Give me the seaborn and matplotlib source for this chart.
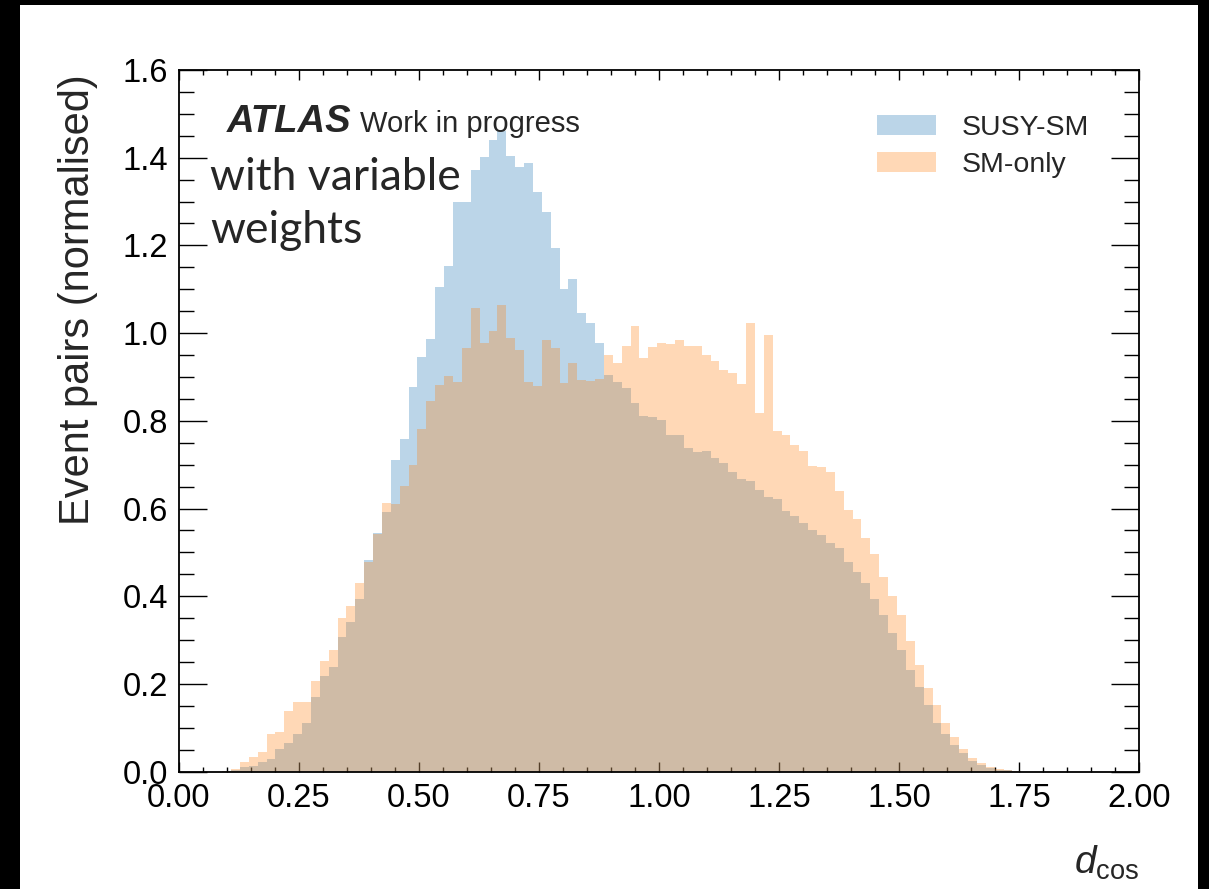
import numpy as np
import pandas as pd
import matplotlib
matplotlib.use("Agg")
import matplotlib.pyplot as plt
import seaborn as sns
from matplotlib.patches import Rectangle, Patch
from matplotlib.ticker import MultipleLocator, FormatStrFormatter

# ---------------- data (normalised bin contents) ----------------
series_labels = ["SUSY-SM", "SM-only"]
bin_start = 0.0898
bin_width = 0.0185

susy_sm = [0.002, 0.005, 0.011, 0.014, 0.021, 0.028, 0.052, 0.066, 0.087, 0.112,
           0.171, 0.218, 0.239, 0.306, 0.341, 0.393, 0.483, 0.544, 0.593, 0.711,
           0.759, 0.878, 0.946, 0.986, 1.106, 1.152, 1.298, 1.298, 1.372, 1.401,
           1.441, 1.462, 1.404, 1.378, 1.388, 1.321, 1.276, 1.194, 1.100, 1.123,
           1.045, 1.024, 0.978, 0.905, 0.888, 0.874, 0.840, 0.812, 0.808, 0.802,
           0.767, 0.767, 0.739, 0.729, 0.732, 0.715, 0.705, 0.684, 0.667, 0.663,
           0.642, 0.627, 0.621, 0.595, 0.582, 0.568, 0.551, 0.540, 0.521, 0.509,
           0.479, 0.455, 0.430, 0.393, 0.357, 0.316, 0.277, 0.233, 0.192, 0.152,
           0.112, 0.085, 0.062, 0.042, 0.024, 0.015, 0.009, 0.005, 0.003, 0.001]

sm_only = [0.002, 0.007, 0.021, 0.034, 0.046, 0.087, 0.090, 0.138, 0.160, 0.160,
           0.207, 0.252, 0.277, 0.350, 0.378, 0.430, 0.479, 0.541, 0.613, 0.611,
           0.651, 0.700, 0.781, 0.846, 0.882, 0.902, 0.889, 0.965, 1.057, 0.978,
           1.006, 1.064, 0.990, 0.962, 0.888, 0.880, 0.985, 0.967, 0.886, 0.933,
           0.894, 0.892, 0.895, 0.950, 0.933, 0.971, 1.016, 0.944, 0.968, 0.978,
           0.975, 0.985, 0.971, 0.971, 0.950, 0.937, 0.916, 0.908, 0.885, 1.024,
           0.818, 0.996, 0.777, 0.767, 0.746, 0.731, 0.697, 0.694, 0.684, 0.639,
           0.597, 0.576, 0.532, 0.497, 0.444, 0.401, 0.357, 0.297, 0.243, 0.190,
           0.152, 0.110, 0.078, 0.052, 0.032, 0.020, 0.011, 0.007, 0.004, 0.002]

x_ticks = [0.00, 0.25, 0.50, 0.75, 1.00, 1.25, 1.50, 1.75, 2.00]
y_ticks = [0.0, 0.2, 0.4, 0.6, 0.8, 1.0, 1.2, 1.4, 1.6]

# ---------------- style ----------------
sns.set_style("ticks")
plt.rcParams["font.family"] = ["Liberation Sans", "DejaVu Sans"]
plt.rcParams["mathtext.fontset"] = "custom"
plt.rcParams["mathtext.rm"] = "Liberation Sans"
plt.rcParams["mathtext.it"] = "Liberation Sans:italic"

colors = ["#1f77b4", "#ff7f0e"]

W, H = 1209, 889
fig = plt.figure(figsize=(W / 100, H / 100), dpi=100)
fig.patch.set_facecolor("white")

# black frame strips of the screenshot
for (x0, y0, w, h) in [(0, 0, 20, H), (0, H - 5, W, 5), (1198, 0, W - 1198, H)]:
    fig.patches.append(Rectangle((x0 / W, y0 / H), w / W, h / H,
                                 transform=fig.transFigure, facecolor="black",
                                 edgecolor="none", zorder=10))

ax_l, ax_r, ax_t, ax_b = 179, 1139, 70, 771.7
ax = fig.add_axes([ax_l / W, (H - ax_b) / H, (ax_r - ax_l) / W, (ax_b - ax_t) / H])

edges = (bin_start + bin_width * np.arange(len(susy_sm) + 1)).tolist()
centers = [0.5 * (a + b) for a, b in zip(edges[:-1], edges[1:])]

for vals, lab, col in zip([susy_sm, sm_only], series_labels, colors):
    df = pd.DataFrame({"d": centers, "w": vals})
    sns.histplot(data=df, x="d", weights="w", bins=edges, element="step",
                 fill=True, alpha=0.3, linewidth=0, color=col, ax=ax,
                 stat="count", label=lab)

ax.set_xlim(0, 2)
ax.set_ylim(0, 1.6)
ax.set_xticks(x_ticks)
ax.set_yticks(y_ticks)
ax.xaxis.set_major_formatter(FormatStrFormatter("%.2f"))
ax.yaxis.set_major_formatter(FormatStrFormatter("%.1f"))
ax.xaxis.set_minor_locator(MultipleLocator(0.05))
ax.yaxis.set_minor_locator(MultipleLocator(0.05))

ax.tick_params(axis="both", which="both", direction="in", top=True, right=True,
               width=1.0, colors="black", labelsize=23.5, pad=8)
ax.tick_params(axis="x", which="major", length=7.2)
ax.tick_params(axis="x", which="minor", length=3.6)
ax.tick_params(axis="y", which="major", length=20.2)
ax.tick_params(axis="y", which="minor", length=10.8)
for sp in ax.spines.values():
    sp.set_linewidth(1.3)
    sp.set_color("black")

ax.set_ylabel("Event pairs (normalised)", fontsize=30, loc="top")
ax.yaxis.set_label_coords(-0.0844, 0.994)
ax.set_xlabel(r"$d_{\mathrm{cos}}$", fontsize=28, loc="right")
ax.xaxis.set_label_coords(1.0, -0.103)

handles = [Patch(facecolor=c, alpha=0.3, linewidth=0) for c in colors]
ax.legend(handles, series_labels, loc="upper left",
          bbox_to_anchor=(877 / W, 1 - 115 / H), bbox_transform=fig.transFigure,
          frameon=False, fontsize=20.5, handlelength=2.07, handleheight=0.7,
          handletextpad=0.9, labelspacing=0.4, borderpad=0, borderaxespad=0)

fig.text(227 / W, 1 - 132 / H, "ATLAS", fontsize=27.5, fontweight="bold",
         fontstyle="italic", va="baseline", ha="left")
fig.text(360 / W, 1 - 132 / H, "Work in progress", fontsize=21,
         va="baseline", ha="left")

fig.text(210 / W, 1 - 190 / H, "with variable", fontsize=32,
         family=["Lato", "DejaVu Sans"], va="baseline", ha="left")
fig.text(210 / W, 1 - 243 / H, "weights", fontsize=32,
         family=["Lato", "DejaVu Sans"], va="baseline", ha="left")

fig.savefig("out.png", dpi=100, facecolor=fig.get_facecolor())
